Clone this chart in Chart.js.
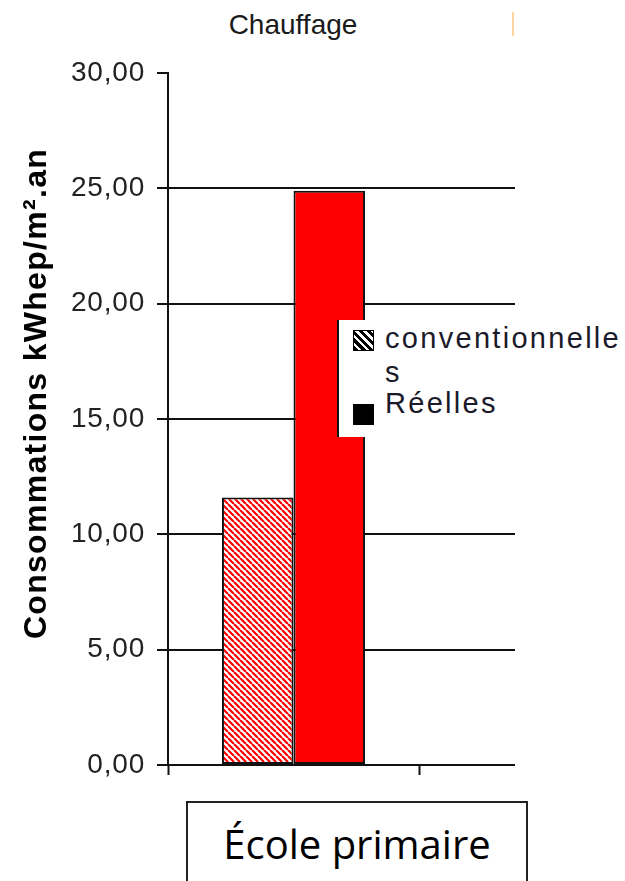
<!DOCTYPE html>
<html lang="fr">
<head>
<meta charset="utf-8">
<title>Chauffage</title>
<script src="https://cdn.jsdelivr.net/npm/chart.js@4.4.1/dist/chart.umd.min.js"></script>
<style>
  html, body { margin: 0; padding: 0; background: #fff; }
  body { width: 625px; height: 881px; position: relative; overflow: hidden;
         font-family: "Liberation Sans", Arial, sans-serif; }
  #plot { position: absolute; left: 0; top: 0; width: 515px; height: 800px; overflow: hidden; }
  #plot canvas { position: absolute; left: 0; top: 0; }
  #title { position: absolute; left: 0; top: 9px; width: 586px; text-align: center;
           font-size: 28px; line-height: 32px; color: #1a1a1a; }
  #edge { position: absolute; left: 512px; top: 12px; width: 2px; height: 24px; background: #ffd79e; }
  #legend { position: absolute; left: 337px; top: 320px; width: 288px; height: 117px;
            background: #fff; border-left: 2px solid #111; box-sizing: border-box; }
  #legend .sw { position: absolute; left: 14px; width: 21px; height: 21px; box-sizing: border-box;
                border: 1px solid #000; }
  #legend .tx { position: absolute; left: 46px; width: 240px; font-size: 29px; line-height: 34px;
                letter-spacing: 2.3px; color: #1a1a2a; word-break: break-all; }
  #category { position: absolute; left: 186px; top: 801px; width: 342px; height: 120px;
              border: 2px solid #222; border-bottom: none; box-sizing: border-box; }
  #category span { position: absolute; left: 0; right: 0; top: 21px; text-align: center;
                   font-family: "Open Sans", "Noto Sans", sans-serif; font-size: 40px; line-height: 40px; color: #000; }
</style>
</head>
<body>
<div id="title"></div>
<div id="edge"></div>
<div id="plot"><canvas id="chart" width="680" height="800"></canvas></div>
<div id="legend"></div>
<div id="category"><span></span></div>
<script>
// Heating consumption per building, kWhep/m².an
const chartTitle = 'Chauffage';
const categories = ['École primaire', ''];
const seriesLabels = ['conventionnelles', 'Réelles'];
const conventionnelles = [11.6, null];
const reelles = [24.9, null];
const yTickValues = [0, 5, 10, 15, 20, 25, 30];
const yAxisTitle = 'Consommations kWhep/m².an';

document.getElementById('title').textContent = chartTitle;
document.querySelector('#category span').textContent = categories[0];

// diagonal red/white hatching used for the conventional series
function hatch(fg, bg, size, lw) {
  const c = document.createElement('canvas');
  c.width = c.height = size;
  const g = c.getContext('2d');
  g.fillStyle = bg;
  g.fillRect(0, 0, size, size);
  g.strokeStyle = fg;
  g.lineWidth = lw;
  g.beginPath();
  for (const o of [-size, 0, size]) { g.moveTo(o, 0); g.lineTo(o + size, size); }
  g.stroke();
  return g.createPattern(c, 'repeat');
}

const fmt = v => v.toFixed(2).replace('.', ',');

// slightly wider glyph spacing for the axis texts
const textSpacing = {
  id: 'textSpacing',
  beforeDraw(chart) { chart.ctx.letterSpacing = '1.3px'; },
  beforeDatasetsDraw(chart) { chart.ctx.letterSpacing = '0.8px'; },
  afterDraw(chart) { chart.ctx.letterSpacing = '0px'; }
};

const ink = '#111';

const chart = new Chart(document.getElementById('chart'), {
  type: 'bar',
  data: {
    labels: categories,
    datasets: [
      { label: seriesLabels[0], data: conventionnelles,
        backgroundColor: hatch('#ff0000', '#ffffff', 6, 2.2),
        borderColor: ink, borderWidth: 2, borderSkipped: false },
      { label: seriesLabels[1], data: reelles,
        backgroundColor: '#ff0000',
        borderColor: ink, borderWidth: 2, borderSkipped: false }
    ]
  },
  options: {
    responsive: false,
    animation: false,
    devicePixelRatio: 1,
    layout: { padding: { left: 0, top: 73, right: 10, bottom: 25 } },
    datasets: { bar: { categoryPercentage: 0.57, barPercentage: 1.0 } },
    plugins: { legend: { display: false }, title: { display: false }, tooltip: { enabled: false } },
    scales: {
      x: {
        grid: { drawOnChartArea: false, offset: true, tickLength: 10, tickWidth: 2, tickColor: ink, color: ink },
        border: { color: ink, width: 2 },
        ticks: { display: false }
      },
      y: {
        min: yTickValues[0],
        max: yTickValues[yTickValues.length - 1],
        afterBuildTicks: s => { s.ticks = yTickValues.map(v => ({ value: v })); },
        afterFit: s => { s.width = 168; },
        ticks: {
          z: 1, padding: 12, color: '#222',
          font: { family: 'Liberation Sans', size: 28 },
          callback: v => fmt(v)
        },
        grid: {
          color: c => (c.tick && c.tick.value === yTickValues[yTickValues.length - 1]) ? 'rgba(0,0,0,0)' : ink,
          lineWidth: 2, tickLength: 11, tickWidth: 2, tickColor: ink
        },
        border: { color: ink, width: 2 },
        title: {
          display: true, text: ' '.repeat(5) + yAxisTitle, color: '#000',
          font: { family: 'Liberation Sans', size: 32, weight: 'bold' },
          padding: { top: 18, bottom: 0 }
        }
      }
    }
  },
  plugins: [textSpacing]
});

// legend: pattern swatch + series name for each dataset
const swatchStyles = [
  'background: repeating-linear-gradient(45deg, #000 0px, #000 3px, #fff 3px, #fff 5.5px);',
  'background: #000;'
];
const legendRows = [{ sw: 10, tx: 1 }, { sw: 84, tx: 66 }];
const legend = document.getElementById('legend');
chart.data.datasets.forEach((ds, i) => {
  const sw = document.createElement('div');
  sw.className = 'sw';
  sw.style.cssText = swatchStyles[i] + 'top:' + legendRows[i].sw + 'px;';
  const tx = document.createElement('div');
  tx.className = 'tx';
  tx.style.top = legendRows[i].tx + 'px';
  tx.textContent = ds.label;
  legend.appendChild(sw);
  legend.appendChild(tx);
});
</script>
</body>
</html>
